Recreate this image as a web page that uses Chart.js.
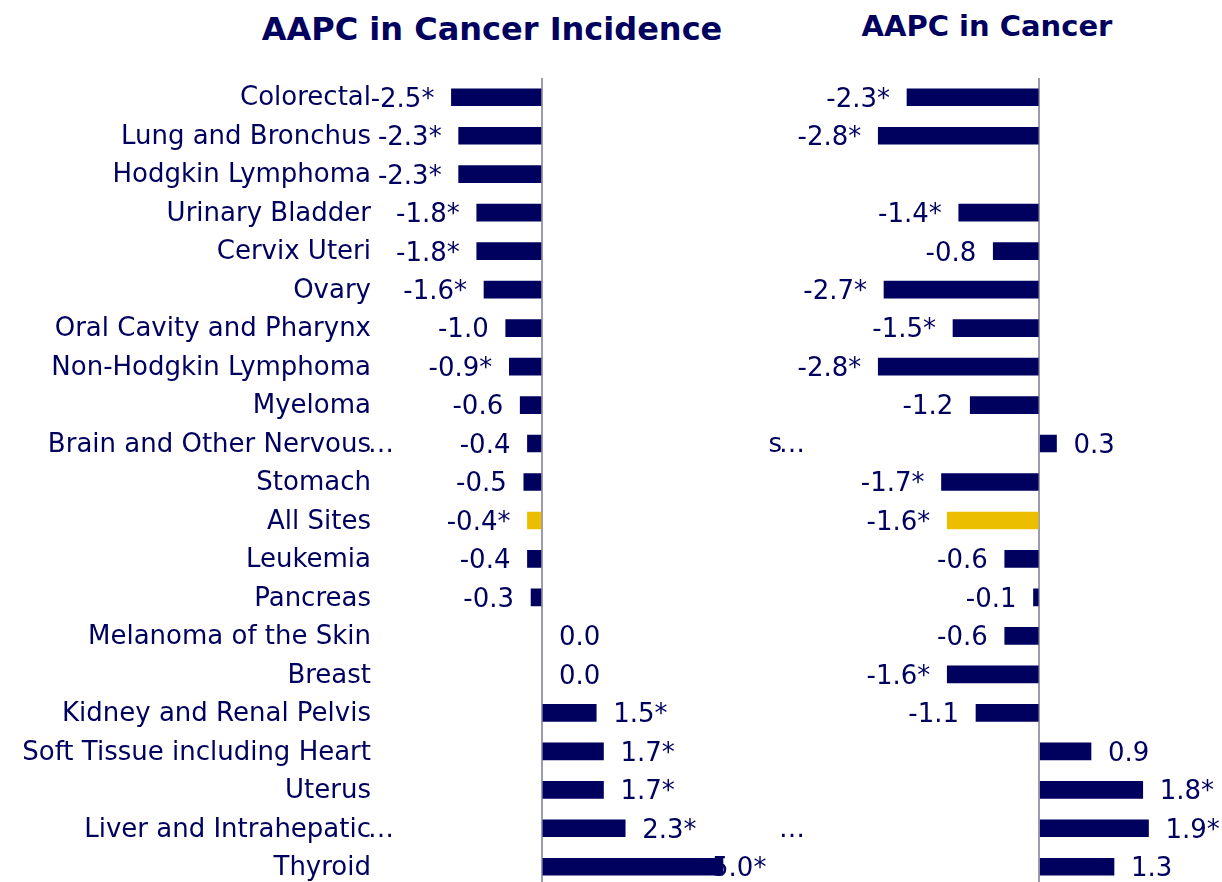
<!DOCTYPE html>
<html>
<head>
<meta charset="utf-8">
<script src="https://cdn.jsdelivr.net/npm/chart.js@4.4.1/dist/chart.umd.min.js"></script>
<style>
  html, body { margin: 0; padding: 0; background: #ffffff; width: 1222px; height: 882px; overflow: hidden; position: relative; }
  canvas { position: absolute; top: 0; }
  #cLeft { left: 0; }
  #cRight { left: 620px; }
  .title { position: absolute; font-family: "DejaVu Sans", sans-serif; font-weight: bold; color: #00005f; text-align: center; white-space: nowrap; line-height: 1; }
  #tLeft { left: 192px; width: 600px; top: 13px; font-size: 32px; }
  #tRight { left: 787px; width: 400px; top: 11.5px; font-size: 29px; }
</style>
</head>
<body>
<div class="title" id="tLeft">AAPC in Cancer Incidence</div>
<div class="title" id="tRight">AAPC in Cancer</div>
<canvas id="cLeft" width="780" height="910"></canvas>
<canvas id="cRight" width="610" height="958"></canvas>
<script>
// ---- data ----
const categories = [
  'Colorectal', 'Lung and Bronchus', 'Hodgkin Lymphoma', 'Urinary Bladder', 'Cervix Uteri',
  'Ovary', 'Oral Cavity and Pharynx', 'Non-Hodgkin Lymphoma', 'Myeloma', 'Brain and Other Nervous…',
  'Stomach', 'All Sites', 'Leukemia', 'Pancreas', 'Melanoma of the Skin',
  'Breast', 'Kidney and Renal Pelvis', 'Soft Tissue including Heart', 'Uterus', 'Liver and Intrahepatic…',
  'Thyroid'
];
const incidenceAAPC = [-2.5, -2.3, -2.3, -1.8, -1.8, -1.6, -1.0, -0.9, -0.6, -0.4, -0.5, -0.4, -0.4, -0.3, 0.0, 0.0, 1.5, 1.7, 1.7, 2.3, 5.0];
const incidenceSig  = [true, true, true, true, true, true, false, true, false, false, false, true, false, false, false, false, true, true, true, true, true];
const mortalityAAPC = [-2.3, -2.8, null, -1.4, -0.8, -2.7, -1.5, -2.8, -1.2, 0.3, -1.7, -1.6, -0.6, -0.1, -0.6, -1.6, -1.1, 0.9, 1.8, 1.9, 1.3];
const mortalitySig  = [true, true, false, true, false, true, true, true, false, false, true, true, false, false, false, true, false, false, true, true, false];
// visible remnants of the (covered) category labels of the right panel
const rightAxisLabels = ['', '', '', '', '', '', '', '', '', 's', '', '', '', '', '', '', '', '', '', '', ''];
const highlightCategory = 'All Sites';
const ELLIPSIS = '…';

// ---- style ----
const NAVY = '#00005f';
const GOLD = '#ebbe00';
const AXIS_GRAY = '#9c9cac';
const FONT = '"DejaVu Sans", sans-serif';
const FSIZE = 26;
const LABEL_SHIFT = 1.5;
Chart.defaults.font.family = FONT;
Chart.defaults.color = NAVY;

const valueLabels = {
  id: 'valueLabels',
  beforeDatasetsDraw(chart, args, opts) {
    const ctx = chart.ctx;
    const meta = chart.getDatasetMeta(0);
    const ds = chart.data.datasets[0];
    const xs = chart.scales.x;
    ctx.save();
    ctx.font = FSIZE + 'px ' + FONT;
    ctx.fillStyle = NAVY;
    ctx.textBaseline = 'alphabetic';
    ctx.textAlign = 'left';
    meta.data.forEach((bar, i) => {
      const v = ds.data[i];
      if (v === null || v === undefined) return;
      const text = v.toFixed(1) + (opts.sig[i] ? '*' : '');
      const end = xs.getPixelForValue(v);
      const w = ctx.measureText(text).width;
      let x;
      if (v < 0) {
        x = end - opts.gap - w;
      } else {
        x = end + opts.gap;
        if (opts.clampRight && x + w > chart.chartArea.right) x = chart.chartArea.right - w;
      }
      ctx.fillText(text, x, bar.y + FSIZE * 0.36);
    });
    ctx.restore();
  }
};

// ellipsis of truncated category labels, drawn just past the label's right edge
const truncMarks = {
  id: 'truncMarks',
  afterDraw(chart, args, opts) {
    const ys = chart.scales.y;
    const ctx = chart.ctx;
    ctx.save();
    ctx.font = FSIZE + 'px ' + FONT;
    ctx.fillStyle = NAVY;
    ctx.textAlign = 'left';
    ctx.textBaseline = 'middle';
    categories.forEach((c, i) => {
      if (!c.endsWith(ELLIPSIS)) return;
      ctx.fillText(ELLIPSIS, ys.right - opts.pad - 3, ys.getPixelForTick(i) + LABEL_SHIFT);
    });
    ctx.restore();
  }
};

function makeChart(canvasId, values, sig, opts) {
  return new Chart(document.getElementById(canvasId), {
    type: 'bar',
    data: {
      labels: categories,
      datasets: [{
        data: values,
        backgroundColor: categories.map((c, i) => values[i] === 0 ? 'rgba(0,0,0,0)' : (c === highlightCategory ? GOLD : NAVY)),
        borderWidth: 0,
        barThickness: 17
      }]
    },
    options: {
      indexAxis: 'y',
      responsive: false,
      animation: false,
      events: [],
      layout: { padding: { left: 0, right: opts.padRight, top: 78, bottom: opts.padBottom } },
      plugins: {
        legend: { display: false },
        tooltip: { enabled: false },
        title: { display: false },
        valueLabels: { sig: sig, gap: 17, clampRight: opts.clampRight },
        truncMarks: { pad: opts.tickPad }
      },
      scales: {
        x: {
          min: opts.min, max: opts.max,
          afterBuildTicks: s => { s.ticks = [{ value: 0 }]; },
          ticks: { display: false },
          border: { display: false },
          grid: {
            drawTicks: false,
            lineWidth: 2,
            color: ctx => (ctx.tick && ctx.tick.value === 0) ? AXIS_GRAY : 'rgba(0,0,0,0)'
          }
        },
        y: {
          afterFit: s => { s.width = opts.axisWidth; },
          border: { display: false },
          grid: { display: false, drawTicks: false },
          ticks: {
            autoSkip: false,
            padding: opts.tickPad,
            labelOffset: LABEL_SHIFT,
            color: NAVY,
            font: { size: FSIZE, family: FONT },
            callback: opts.tickCallback
          }
        }
      }
    },
    plugins: [valueLabels, truncMarks]
  });
}

makeChart('cLeft', incidenceAAPC, incidenceSig, {
  min: -4.5, max: 6.2, axisWidth: 379, padRight: 13.6, padBottom: 24, tickPad: 8, clampRight: true,
  tickCallback: function(v, i) { return categories[i].replace(ELLIPSIS, ''); }
});
makeChart('cRight', mortalityAAPC, mortalitySig, {
  min: -3.5, max: 3.2, axisWidth: 218, padRight: 6.75, padBottom: 72, tickPad: 56, clampRight: false,
  tickCallback: function(v, i) { return rightAxisLabels[i]; }
});
</script>
</body>
</html>
